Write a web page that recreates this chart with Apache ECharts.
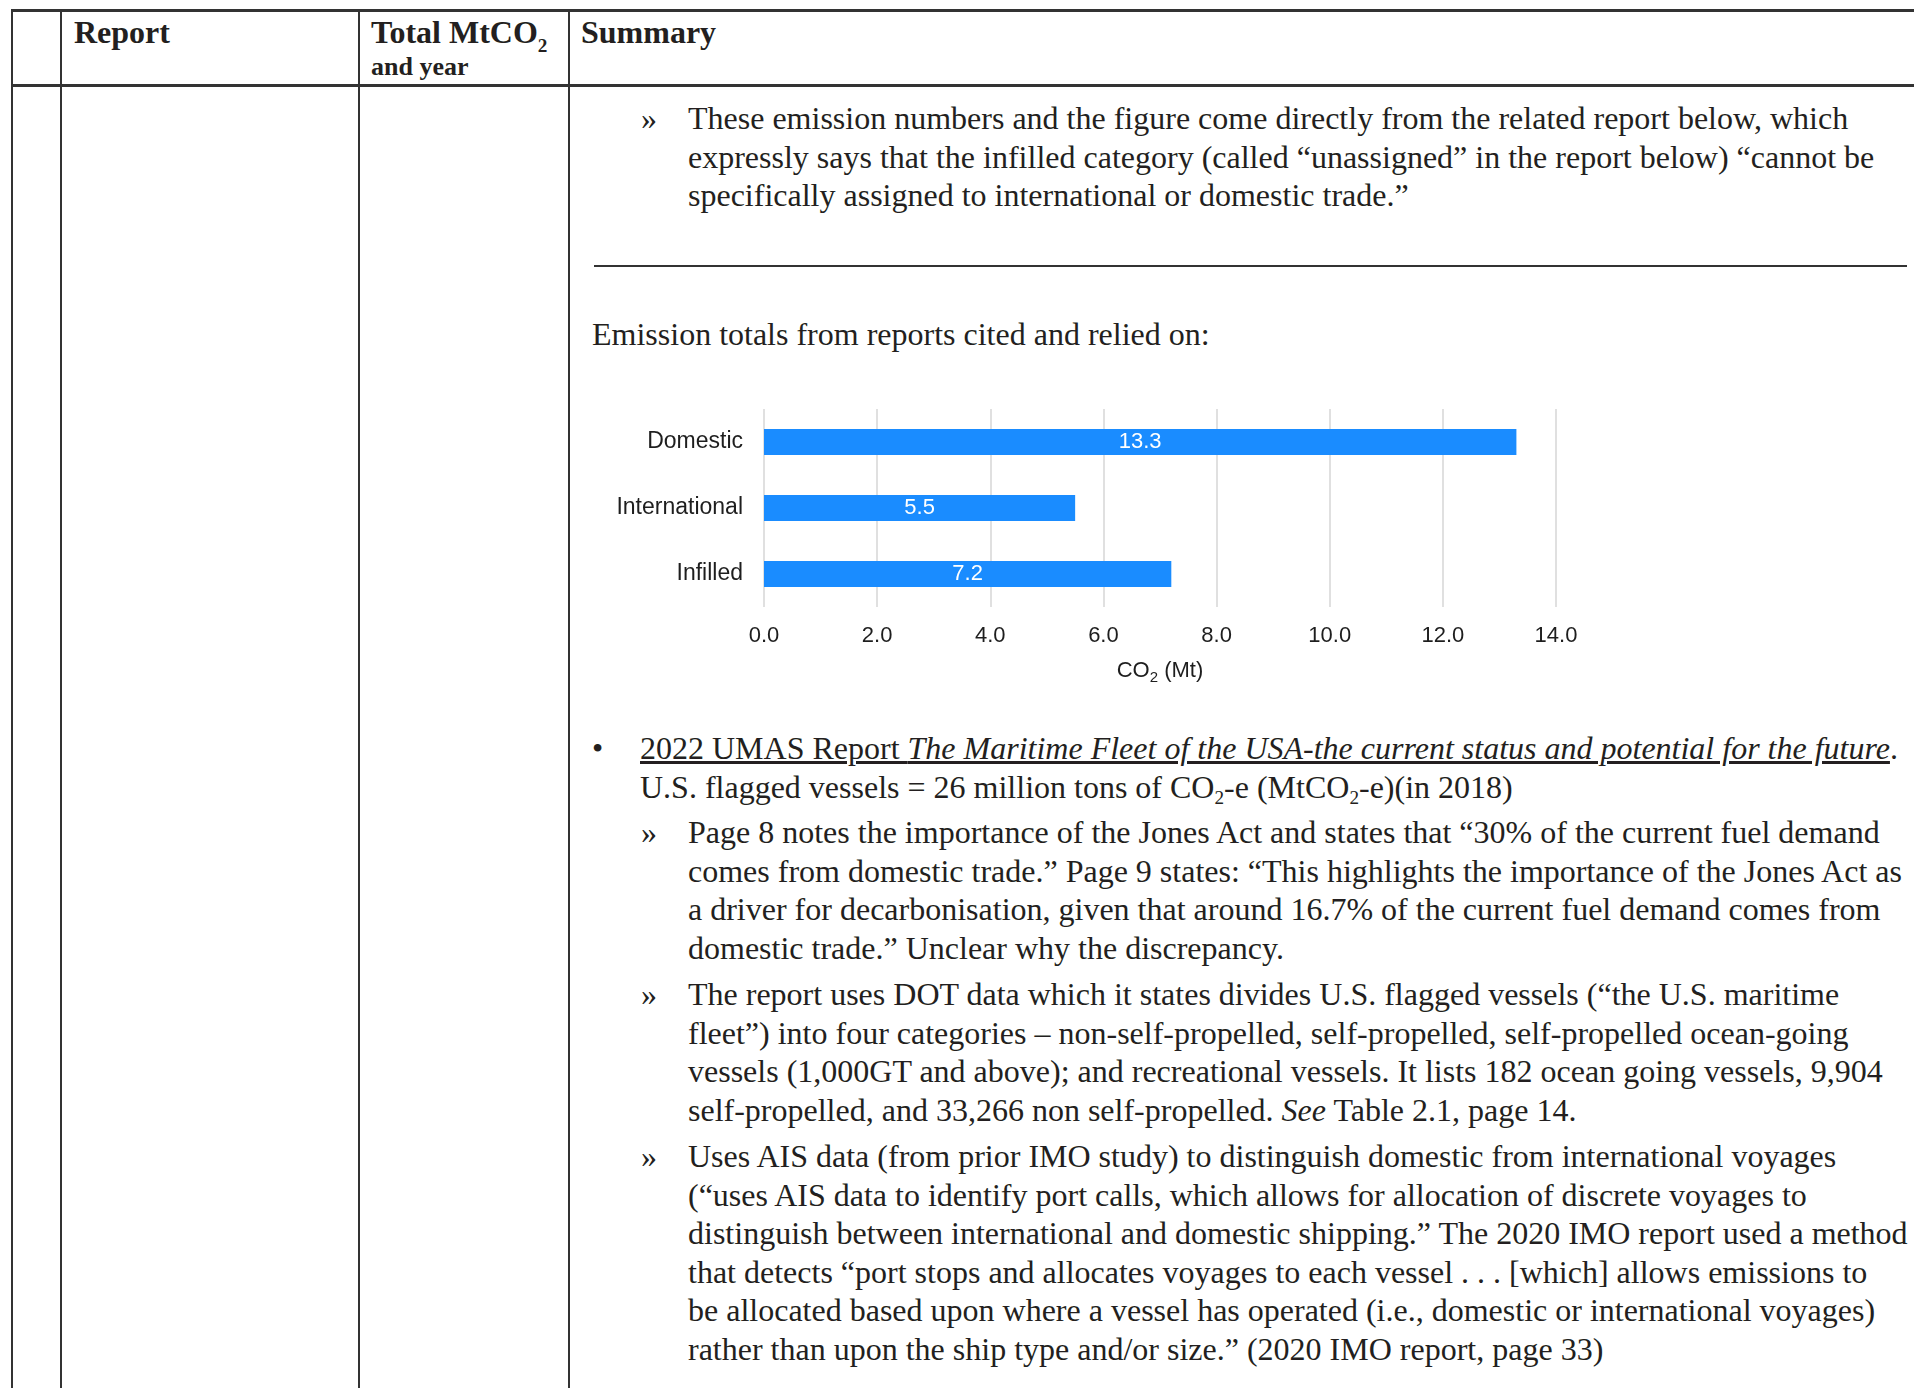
<!DOCTYPE html>
<html>
<head>
<meta charset="utf-8">
<script src="https://cdn.jsdelivr.net/npm/echarts@6/dist/echarts.min.js"></script>
<style>
  html, body { margin: 0; padding: 0; background: #fff; }
  body { width: 1914px; height: 1388px; overflow: hidden; position: relative;
         font-family: "Liberation Serif", "Times New Roman", serif; color: #231f20; }
  .hl { position: absolute; background: #333; }
  .vl { position: absolute; background: #333; width: 2px; top: 10px; height: 1378px; }
  .t { position: absolute; white-space: nowrap; font-size: 32px; line-height: 38.6px; }
  .hd { position: absolute; white-space: nowrap; font-weight: bold; font-size: 32px; line-height: 32px; }
  .mk { position: absolute; font-size: 32px; line-height: 38.6px; }
  sub { font-size: 0.6em; vertical-align: -0.3em; line-height: 0; }
  .hd sub { vertical-align: -0.45em; }
  #chart { position: absolute; left: 590px; top: 390px; width: 1010px; height: 310px; }
</style>
</head>
<body>
<!-- table frame -->
<div class="hl" style="left:11px; top:9px; width:1903px; height:3px;"></div>
<div class="hl" style="left:11px; top:84px; width:1903px; height:3px;"></div>
<div class="vl" style="left:11px;"></div>
<div class="vl" style="left:60px;"></div>
<div class="vl" style="left:358px;"></div>
<div class="vl" style="left:568px;"></div>

<!-- header -->
<div class="hd" style="left:74px; top:16px;">Report</div>
<div class="hd" style="left:371px; top:16px;">Total MtCO<sub>2</sub></div>
<div class="hd" style="left:371px; top:54px; font-size:26px; line-height:26px;">and year</div>
<div class="hd" style="left:581px; top:16px;">Summary</div>

<!-- paragraph 1 -->
<div class="mk" style="left:641px; top:99px;">»</div>
<div class="t" style="left:688px; top:99px;">These emission numbers and the figure come directly from the related report below, which<br>expressly says that the infilled category (called “unassigned” in the report below) “cannot be<br>specifically assigned to international or domestic trade.”</div>

<div class="hl" style="left:594px; top:265px; width:1313px; height:2px;"></div>

<div class="t" style="left:592px; top:315px;">Emission totals from reports cited and relied on:</div>

<div id="chart"></div>

<!-- UMAS -->
<div class="mk" style="left:592px; top:729px;">•</div>
<div class="t" style="left:640px; top:729px;"><u>2022 UMAS Report <i>The Maritime Fleet of the USA-the current status and potential for the future</i></u>.<br>U.S. flagged vessels = 26 million tons of CO<sub>2</sub>-e (MtCO<sub>2</sub>-e)(in 2018)</div>

<div class="mk" style="left:641px; top:813px;">»</div>
<div class="t" style="left:688px; top:813px;">Page 8 notes the importance of the Jones Act and states that “30% of the current fuel demand<br>comes from domestic trade.” Page 9 states: “This highlights the importance of the Jones Act as<br>a driver for decarbonisation, given that around 16.7% of the current fuel demand comes from<br>domestic trade.” Unclear why the discrepancy.</div>

<div class="mk" style="left:641px; top:975px;">»</div>
<div class="t" style="left:688px; top:975px;">The report uses DOT data which it states divides U.S. flagged vessels (“the U.S. maritime<br>fleet”) into four categories – non-self-propelled, self-propelled, self-propelled ocean-going<br>vessels (1,000GT and above); and recreational vessels. It lists 182 ocean going vessels, 9,904<br>self-propelled, and 33,266 non self-propelled. <i>See</i> Table 2.1, page 14.</div>

<div class="mk" style="left:641px; top:1137px;">»</div>
<div class="t" style="left:688px; top:1137px;">Uses AIS data (from prior IMO study) to distinguish domestic from international voyages<br>(“uses AIS data to identify port calls, which allows for allocation of discrete voyages to<br>distinguish between international and domestic shipping.” The 2020 IMO report used a method<br>that detects “port stops and allocates voyages to each vessel . . . [which] allows emissions to<br>be allocated based upon where a vessel has operated (i.e., domestic or international voyages)<br>rather than upon the ship type and/or size.” (2020 IMO report, page 33)</div>

<script>
// ---- data ----
var categories = ["Domestic", "International", "Infilled"];
var emissions = [13.3, 5.5, 7.2];
var axisMin = 0;
var axisMax = 14;
var axisStep = 2;

var chart = echarts.init(document.getElementById('chart'), null, { renderer: 'canvas' });
var sansFont = '"Liberation Sans", Arial, sans-serif';
chart.setOption({
  animation: false,
  textStyle: { fontFamily: sansFont },
  grid: { left: 174, top: 19, width: 792, height: 198, containLabel: false },
  xAxis: {
    type: 'value',
    min: axisMin, max: axisMax, interval: axisStep,
    axisLine: { show: false },
    axisTick: { show: false },
    splitLine: { show: true, lineStyle: { color: '#d6d6d6', width: 1.5 } },
    axisLabel: {
      margin: 18, fontSize: 22, color: '#1e1e1e', fontFamily: sansFont,
      formatter: function (v) { return v.toFixed(1); }
    },
    name: '{a|CO}{s|2}{a| (Mt)}',
    nameLocation: 'middle',
    nameGap: 50,
    nameTextStyle: {
      fontFamily: sansFont,
      rich: {
        a: { fontSize: 22, color: '#1e1e1e', lineHeight: 28, fontFamily: sansFont },
        s: { fontSize: 15, color: '#1e1e1e', verticalAlign: 'bottom', fontFamily: sansFont }
      }
    }
  },
  yAxis: {
    type: 'category',
    data: categories,
    inverse: true,
    axisLine: { show: false },
    axisTick: { show: false },
    axisLabel: { margin: 21, fontSize: 23, color: '#1e1e1e', fontFamily: sansFont }
  },
  series: [{
    type: 'bar',
    data: emissions,
    barWidth: 26,
    itemStyle: { color: '#1a8cff' },
    label: {
      show: true, position: 'inside', color: '#fff', fontSize: 22, fontFamily: sansFont,
      formatter: function (p) { return p.value.toFixed(1); }
    }
  }]
});
</script>
</body>
</html>
